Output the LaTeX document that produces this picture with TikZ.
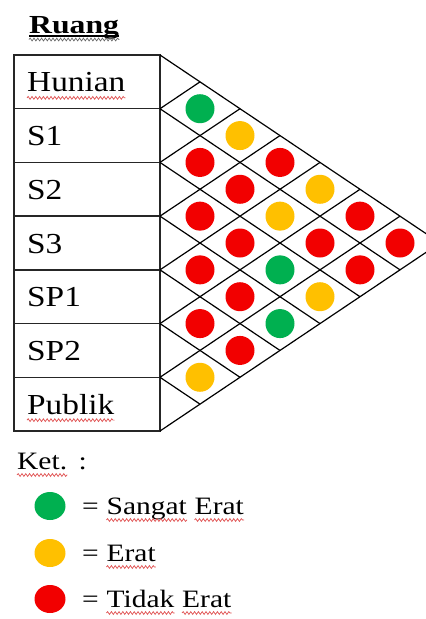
\documentclass[tikz,border=0pt]{standalone}
\usepackage{fontspec}
\setmainfont{Liberation Serif}
\usepackage{graphicx}
\usetikzlibrary{decorations.pathmorphing,shapes.geometric}
\definecolor{dgreen}{HTML}{00B050}
\definecolor{dyellow}{HTML}{FFC000}
\definecolor{dred}{HTML}{F20000}
\definecolor{wavered}{HTML}{E05050}
\newcommand{\sxr}[1]{\scalebox{1.15}[1]{#1}}
\newcommand{\sxl}[1]{\scalebox{1.18}[1]{#1}}
\begin{document}
\begin{tikzpicture}[x=1pt,y=-1pt,
  rowlabel/.style={anchor=base west,inner sep=0pt,font=\fontsize{29}{31}\selectfont},
  legtext/.style={anchor=base west,inner sep=0pt,font=\fontsize{25}{27}\selectfont},
  spell/.style={draw=wavered,line width=0.7pt,decorate,decoration={snake,amplitude=1.4pt,segment length=3.8pt}},
  tbl/.style={line width=1.4pt,draw=black!85},
  gridline/.style={line width=1.2pt,draw=black},
  dot/.style={circle,inner sep=0pt,minimum size=29pt,draw=none},
  legdot/.style={ellipse,inner sep=0pt,minimum width=31pt,minimum height=28pt,draw=none},
]
\useasboundingbox (0,0) rectangle (426,619);
\clip (0,0) rectangle (426,619);
\fill[white] (0,0) rectangle (426,619);

% title
\node[anchor=base west,inner sep=0pt,font=\bfseries\fontsize{26}{28}\selectfont] (ruang) at (29,33) {\scalebox{1.22}[1]{Ruang}};
\draw[line width=1.8pt] ([yshift=-3pt]ruang.base west) -- ([yshift=-3pt]ruang.base east);
\draw[spell,draw=black!60] ([yshift=-6.5pt]ruang.base west) -- ([yshift=-6.5pt]ruang.base east);

% left vertices of the grid
\foreach \b in {0,...,7} {
  \coordinate (L\b) at (160,55+53.714*\b);
}

% table
\draw[tbl] (14,55) rectangle (160,431);
\foreach \b in {1,...,6} {
  \draw[tbl] (14,55+53.714*\b) -- (L\b);
}

% triangular grid
\foreach \b in {0,...,7} {
  \pgfmathsetmacro{\dn}{7-\b}
  \draw[gridline] (L\b) -- ++(40*\dn,26.857*\dn);
  \draw[gridline] (L\b) -- ++(40*\b,-26.857*\b);
}

% row labels
\foreach \n/\t in {0/Hunian,1/S1,2/S2,3/S3,4/SP1,5/SP2,6/Publik} {
  \node[rowlabel] (r\n) at (27,55+53.714*\n+26.857+10) {\sxr{\t}};
}
\draw[spell] ([yshift=-6pt]r0.base west) -- ([yshift=-6pt]r0.base east);
\draw[spell] ([yshift=-6pt]r6.base west) -- ([yshift=-6pt]r6.base east);

% relationship dots
\foreach \i/\j/\c in {0/1/dgreen,1/2/dred,2/3/dred,3/4/dred,4/5/dred,5/6/dyellow,
  0/2/dyellow,1/3/dred,2/4/dred,3/5/dred,4/6/dred,
  0/3/dred,1/4/dyellow,2/5/dgreen,3/6/dgreen,
  0/4/dyellow,1/5/dred,2/6/dyellow,
  0/5/dred,1/6/dred,
  0/6/dred} {
  \node[dot,fill=\c] (p\i\j) at (160+40*\j-40*\i,55+26.857*\i+26.857*\j+26.857) {};
}

% legend
\node[legtext] (ket) at (17,469) {\sxl{Ket.}};
\node[legtext] (colon) at ([xshift=11pt]ket.base east) {\sxl{:}};
\draw[spell] ([yshift=-6pt]ket.base west) -- ([yshift=-6pt]ket.base east);

\node[legdot,fill=dgreen] (lg) at (50,506) {};
\node[legdot,fill=dyellow] (ly) at (50,553) {};
\node[legdot,fill=dred] (lr) at (50,599) {};

\node[legtext] (eq1) at (82,514) {\sxl{=}};
\node[legtext] (w1a) at ([xshift=7.4pt]eq1.base east) {\sxl{Sangat}};
\node[legtext] (w1b) at ([xshift=7.4pt]w1a.base east) {\sxl{Erat}};
\node[legtext] (eq2) at (82,561) {\sxl{=}};
\node[legtext] (w2a) at ([xshift=7.4pt]eq2.base east) {\sxl{Erat}};
\node[legtext] (eq3) at (82,607) {\sxl{=}};
\node[legtext] (w3a) at ([xshift=7.4pt]eq3.base east) {\sxl{Tidak}};
\node[legtext] (w3b) at ([xshift=7.4pt]w3a.base east) {\sxl{Erat}};
\foreach \w in {w1a,w1b,w2a,w3a,w3b} {
  \draw[spell] ([yshift=-6pt]\w.base west) -- ([yshift=-6pt]\w.base east);
}
\end{tikzpicture}
\end{document}
